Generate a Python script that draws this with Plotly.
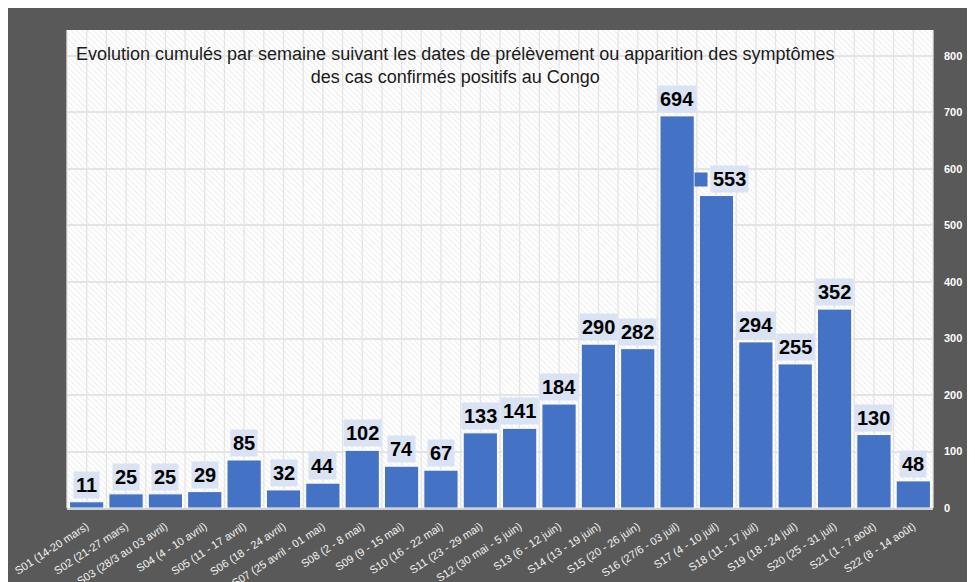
import base64
import plotly.graph_objects as go

weeks = ["S01 (14-20 mars)", "S02 (21-27 mars)", "S03 (28/3 au 03 avril)", "S04 (4 - 10 avril)",
         "S05 (11 - 17 avril)", "S06 (18 - 24 avril)", "S07 (25 avril - 01 mai)", "S08 (2 - 8 mai)",
         "S09 (9 - 15 mai)", "S10 (16 - 22 mai)", "S11 (23 - 29 mai)", "S12 (30 mai - 5 juin)",
         "S13 (6 - 12 juin)", "S14 (13 - 19 juin)", "S15 (20 - 26 juin)", "S16 (27/6 - 03 juil)",
         "S17 (4 - 10 juil)", "S18 (11 - 17 juil)", "S19 (18 - 24 juil)", "S20 (25 - 31 juil)",
         "S21 (1 - 7 août)", "S22 (8 - 14 août)"]
cases = [11, 25, 25, 29, 85, 32, 44, 102, 74, 67, 133, 141, 184, 290, 282, 694, 553, 294, 255, 352, 130, 48]
y_ticks = [0, 100, 200, 300, 400, 500, 600, 700, 800]
title_lines = ["Evolution cumulés par semaine suivant les dates de prélèvement ou apparition des symptômes",
               "des cas confirmés positifs au Congo"]

W, H = 964, 574
ML, MR, MT, MB = 59, 39, 22, 74
PW, PH = W - ML - MR, H - MT - MB
BLUE = "#4472C4"

# background: hatched plot area with half-category vertical grid
n = len(weeks)
step = PW / (2 * n)
vlines = "".join(
    f'<line x1="{ML + k * step:.2f}" y1="{MT}" x2="{ML + k * step:.2f}" y2="{MT + PH}" stroke="#e4e4e4" stroke-width="1.3"/>'
    for k in range(2 * n + 1)
)
svg = f'''<svg xmlns="http://www.w3.org/2000/svg" width="{W}" height="{H}" viewBox="0 0 {W} {H}">
<defs><pattern id="h" width="4" height="4" patternUnits="userSpaceOnUse" patternTransform="rotate(-45)">
<line x1="0" y1="0" x2="0" y2="4" stroke="#dcdcdc" stroke-width="1"/></pattern></defs>
<rect x="{ML}" y="{MT}" width="{PW}" height="{PH}" fill="#ffffff"/>
<rect x="{ML}" y="{MT}" width="{PW}" height="{PH}" fill="url(#h)"/>
{vlines}
</svg>'''
bg_uri = "data:image/svg+xml;base64," + base64.b64encode(svg.encode("utf-8")).decode("ascii")

fig = go.Figure()
fig.add_trace(go.Bar(
    x=weeks, y=cases,
    marker=dict(color=BLUE, line=dict(color="#ffffff", width=1)),
    hoverinfo="x+y",
))

label_font = dict(family="Liberation Sans, Arial, sans-serif", size=20, color="#000000", weight="bold")
annotations = []
for i, (w, v) in enumerate(zip(weeks, cases)):
    annotations.append(dict(
        x=w, y=v, xref="x", yref="y", text=str(v), showarrow=False,
        yanchor="bottom", yshift=3, xshift=13 if i == 16 else 0,
        bgcolor="#DAE3F3", borderpad=2, font=label_font,
    ))
# small legend-key square shown beside the displaced "553" label
annotations.append(dict(
    x=weeks[16], y=cases[16], xref="x", yref="y", text=" ", showarrow=False,
    yanchor="middle", yshift=16, xshift=-16, width=12, height=13,
    bgcolor=BLUE, borderpad=0, font=dict(size=8),
))
annotations.append(dict(
    xref="paper", yref="paper", x=(447 - ML) / PW, y=(MT + PH - 57) / PH,
    xanchor="center", yanchor="middle", showarrow=False, align="center",
    text="<br>".join(title_lines),
    font=dict(family="Liberation Sans, Arial, sans-serif", size=18, color="#1a1a1a"),
))

fig.update_layout(
    width=W, height=H, autosize=False,
    margin=dict(l=ML, r=MR, t=MT, b=MB, autoexpand=False),
    paper_bgcolor="#595959", plot_bgcolor="rgba(0,0,0,0)",
    bargap=0.13, showlegend=False,
    annotations=annotations,
    images=[dict(source=bg_uri, xref="paper", yref="paper",
                 x=-ML / PW, y=1 + MT / PH, sizex=W / PW, sizey=H / PH,
                 xanchor="left", yanchor="top", sizing="stretch", layer="below")],
    xaxis=dict(
        type="category", tickangle=-33, showgrid=False, zeroline=False,
        showline=True, linecolor="#d0d0d0", linewidth=2,
        ticklabelstandoff=6,
        tickfont=dict(family="Liberation Sans, Arial, sans-serif", size=11, color="#f2f2f2"),
        automargin=False,
    ),
    yaxis=dict(
        side="right", range=[0, 846], tickmode="array", tickvals=y_ticks,
        ticktext=[str(t) for t in y_ticks],
        showgrid=True, gridcolor="#e4e4e4", gridwidth=1.5, zeroline=False,
        ticklabelstandoff=10,
        tickfont=dict(family="Liberation Sans, Arial, sans-serif",
                      size=11, color="#ffffff", weight="bold"),
        automargin=False,
    ),
)

fig.write_html("out.html", config={"displayModeBar": False})
